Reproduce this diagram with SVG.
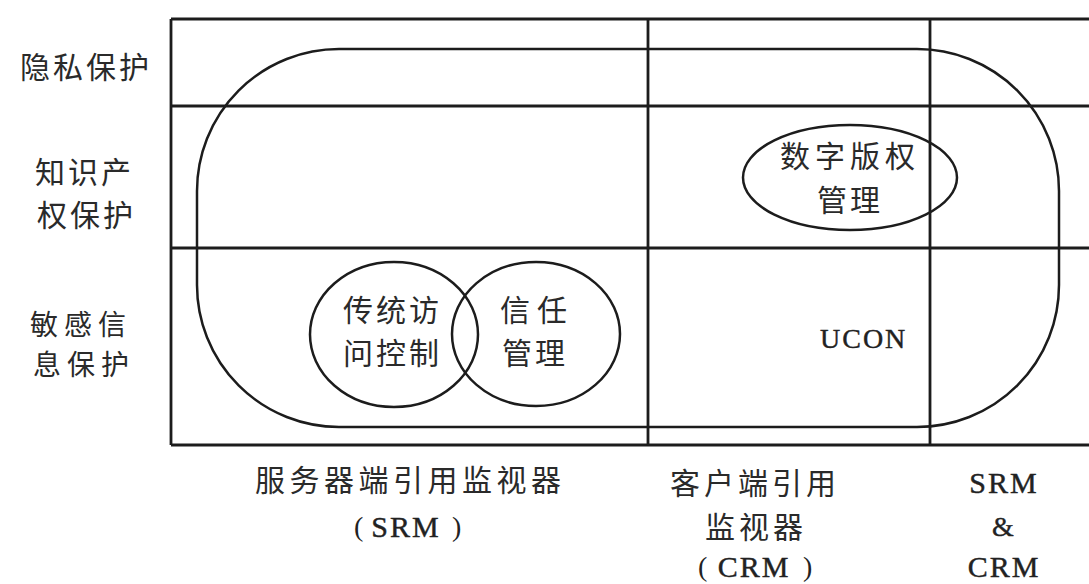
<svg xmlns="http://www.w3.org/2000/svg" width="1089" height="584" viewBox="0 0 1089 584">
<style>
.ln{fill:none;stroke:#1c1c1c;stroke-width:2.8}
.sh{fill:none;stroke:#1c1c1c;stroke-width:2.5}
.cjk{font-family:"Noto Sans CJK SC","Noto Sans",sans-serif;font-size:30px;fill:#2a2a2a;letter-spacing:3px}
.lat{font-family:"Liberation Serif","DejaVu Serif",serif;fill:#222222;stroke:#222222;stroke-width:0.4}
</style>
<rect width="1089" height="584" fill="#ffffff"/>
<g id="grid">
<line class="ln" x1="171" y1="19" x2="1089" y2="19"/>
<line class="ln" x1="171" y1="106" x2="1089" y2="106"/>
<line class="ln" x1="171" y1="248" x2="1089" y2="248"/>
<line class="ln" x1="171" y1="445" x2="1089" y2="445"/>
<line class="ln" x1="171" y1="19" x2="171" y2="445"/>
<line class="ln" x1="648" y1="19" x2="648" y2="445"/>
<line class="ln" x1="930" y1="19" x2="930" y2="445"/>
</g>
<g id="row-labels">
<text class="cjk" x="20" y="78">隐私保护</text>
<text class="cjk" x="35" y="183">知识产</text>
<text class="cjk" x="37" y="226">权保护</text>
<text class="cjk" x="30" y="335" style="font-size:28px;letter-spacing:6px">敏感信</text>
<text class="cjk" x="33" y="375" style="font-size:28px;letter-spacing:6px">息保护</text>
</g>
<g id="ucon-region">
<rect class="sh" x="197" y="49" width="862" height="378" rx="142" ry="142"/>
<text class="lat" x="820" y="348" font-size="28" letter-spacing="2">UCON</text>
</g>
<g id="traditional-access-control">
<ellipse class="sh" cx="394" cy="334.5" rx="84" ry="72.5"/>
<text class="cjk" x="343" y="321">传统访</text>
<text class="cjk" x="343" y="364">问控制</text>
</g>
<g id="trust-management">
<ellipse class="sh" cx="536" cy="334" rx="84" ry="72"/>
<text class="cjk" x="500" y="321" style="letter-spacing:7px">信任</text>
<text class="cjk" x="502" y="364">管理</text>
</g>
<g id="drm">
<ellipse class="sh" cx="850" cy="177.5" rx="107" ry="52.5"/>
<text class="cjk" x="780" y="167" style="letter-spacing:5px">数字版权</text>
<text class="cjk" x="817" y="211">管理</text>
</g>
<g id="col-labels">
<text class="cjk" x="255" y="491" style="letter-spacing:4.5px">服务器端引用监视器</text>
<text class="lat" x="354" y="536" font-size="28" style="stroke-width:0">(</text>
<text class="lat" x="406" y="537" font-size="30" text-anchor="middle" letter-spacing="2">SRM</text>
<text class="lat" x="452" y="536" font-size="28" style="stroke-width:0">)</text>
<text class="cjk" x="670" y="494" style="letter-spacing:4px">客户端引用</text>
<text class="cjk" x="705" y="538" style="letter-spacing:4px">监视器</text>
<text class="lat" x="698" y="576" font-size="28" style="stroke-width:0">(</text>
<text class="lat" x="754" y="577" font-size="30" text-anchor="middle" letter-spacing="2">CRM</text>
<text class="lat" x="803" y="576" font-size="28" style="stroke-width:0">)</text>
<text class="lat" x="1004" y="493" font-size="30" text-anchor="middle" letter-spacing="2">SRM</text>
<text class="lat" x="1003" y="536" font-size="28" text-anchor="middle">&amp;</text>
<text class="lat" x="1004" y="577" font-size="30" text-anchor="middle" letter-spacing="2">CRM</text>
</g>
</svg>
